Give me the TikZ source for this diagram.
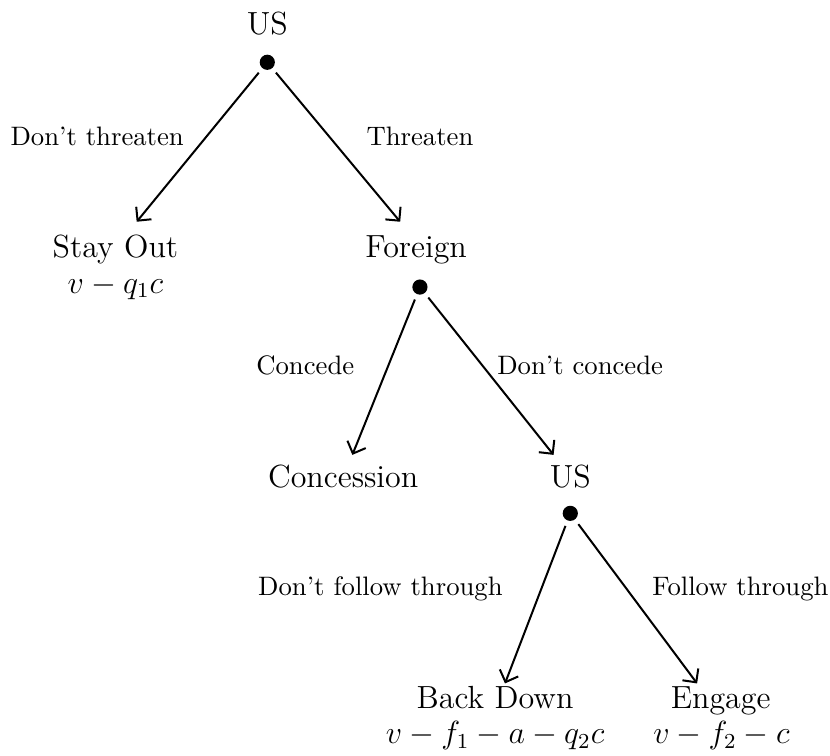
\documentclass[tikz,border=0pt]{standalone}
\usepackage{tikz}
\usetikzlibrary{arrows.meta}

\newcommand{\dotSize}{2mm}
\newcommand{\edgeWidth}{0.75pt}

\begin{document}
\begin{tikzpicture}
\tikzstyle{decisionDot}=[circle,fill,minimum size=\dotSize,inner sep=0pt,outer sep=2.2pt]
\tikzstyle{playerLabel}=[font=\large,inner sep=0pt,anchor=base]
\tikzstyle{actionLabel}=[font=\normalsize,inner sep=1pt]
\tikzstyle{treeEdge}=[-{Straight Barb[length=1.3mm,width=2.6mm]},line width=\edgeWidth]
\useasboundingbox (0,0) rectangle (10.93,-9.95);
% first move: US
\node[playerLabel] (p-0-0) at (3.52,-0.45) {US};
\node[decisionDot] (d-0-0) at (3.52,-0.82) {};
\coordinate (t-1-0) at (1.80,-2.92);
\coordinate (t-1-1) at (5.27,-2.92);
\draw[treeEdge] (d-0-0) -- (t-1-0);
\draw[treeEdge] (d-0-0) -- (t-1-1);
\node[actionLabel] (a-0-0) at (1.28,-1.80) {Don't threaten};
\node[actionLabel] (a-0-1) at (5.53,-1.80) {Threaten};
\node[playerLabel] (p-1-0) at (1.52,-3.39) {Stay Out};
\node[playerLabel] (v-1-0) at (1.52,-3.86) {$v-q_1c$};
% second move: Foreign
\node[playerLabel] (p-1-1) at (5.48,-3.39) {Foreign};
\node[decisionDot] (d-1-1) at (5.53,-3.78) {};
\coordinate (t-2-0) at (4.64,-5.99);
\coordinate (t-2-1) at (7.29,-5.99);
\draw[treeEdge] (d-1-1) -- (t-2-0);
\draw[treeEdge] (d-1-1) -- (t-2-1);
\node[actionLabel] (a-1-0) at (4.02,-4.81) {Concede};
\node[actionLabel] (a-1-1) at (7.64,-4.81) {Don't concede};
\node[playerLabel] (p-2-0) at (4.52,-6.42) {Concession};
% third move: US
\node[playerLabel] (p-2-1) at (7.51,-6.42) {US};
\node[decisionDot] (d-2-1) at (7.51,-6.76) {};
\coordinate (t-3-0) at (6.65,-9.00);
\coordinate (t-3-1) at (9.18,-9.00);
\draw[treeEdge] (d-2-1) -- (t-3-0);
\draw[treeEdge] (d-2-1) -- (t-3-1);
\node[actionLabel] (a-2-0) at (5.01,-7.75) {Don't follow through};
\node[actionLabel] (a-2-1) at (9.75,-7.75) {Follow through};
\node[playerLabel] (p-3-0) at (6.52,-9.33) {Back Down};
\node[playerLabel] (v-3-0) at (6.52,-9.79) {$v-f_1-a-q_2c$};
\node[playerLabel] (p-3-1) at (9.49,-9.33) {Engage};
\node[playerLabel] (v-3-1) at (9.50,-9.79) {$v-f_2-c$};
\end{tikzpicture}
\end{document}
